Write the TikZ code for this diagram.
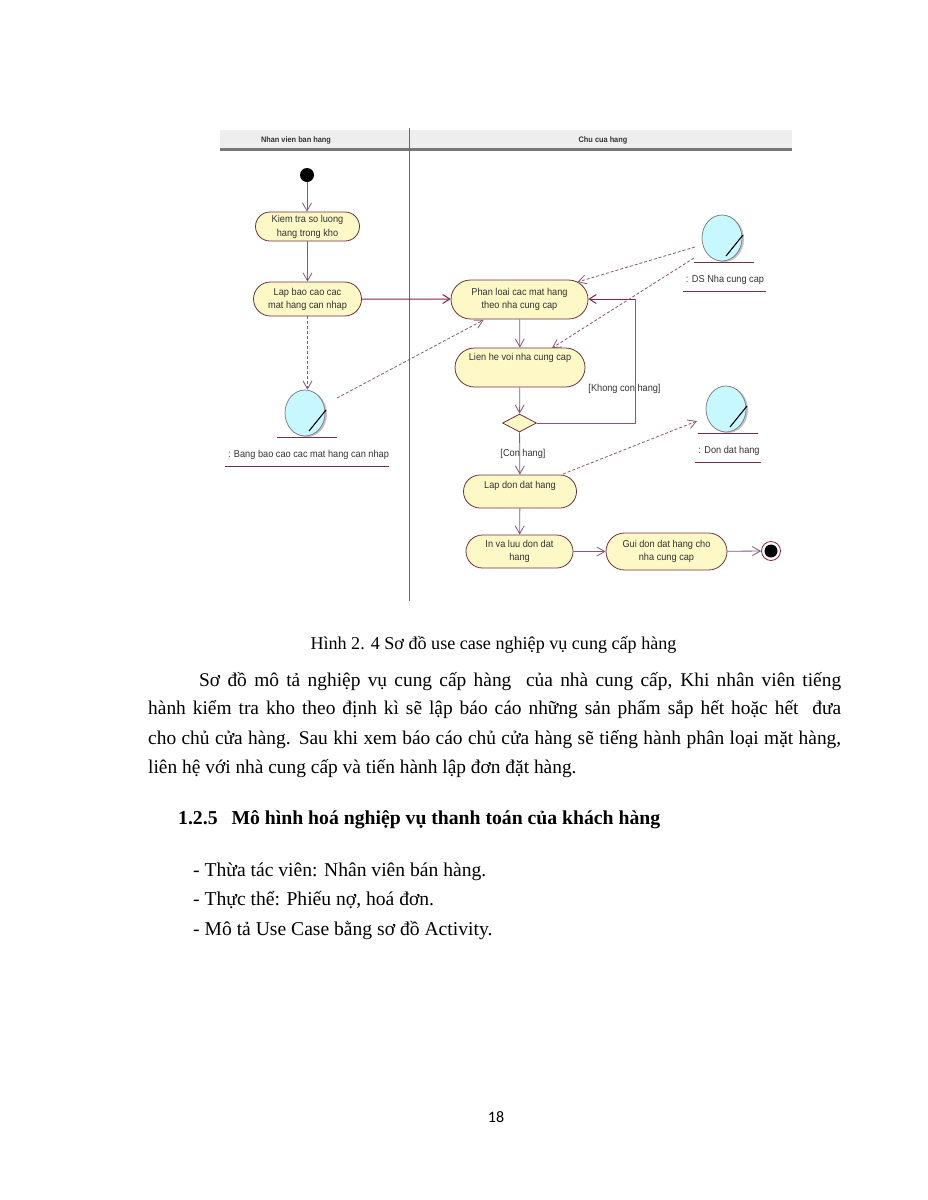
\documentclass[tikz,border=0pt]{standalone}
\usepackage{fontspec}
\setmainfont{Liberation Serif}
\newfontfamily\diagfont[FakeStretch=0.92]{Liberation Sans}
\newfontfamily\pagenofont{Carlito}
\usetikzlibrary{shapes.misc,shapes.geometric,arrows.meta,calc}
\definecolor{lineC}{HTML}{8A5578}
\definecolor{darkC}{HTML}{8A1F48}
\definecolor{edgeC}{HTML}{70303F}
\definecolor{boxF}{HTML}{FDF8C6}
\definecolor{entF}{HTML}{C8F8FF}
\definecolor{headF}{HTML}{EEEEEE}
\definecolor{headL}{HTML}{777777}
\definecolor{txtC}{HTML}{333333}
\definecolor{shadC}{HTML}{C9BFC9}
\tikzset{
  x=1pt,y=-1pt,
  act/.style={rounded rectangle,draw=edgeC,fill=boxF,line width=0.8,inner sep=0,align=center,
    font=\diagfont\fontsize{10}{13}\selectfont,text=txtC},
  flow/.style={draw=lineC,line width=0.8,-{Straight Barb[length=8,width=9]}},
  thickflow/.style={draw=darkC,line width=1,-{Straight Barb[length=7,width=9]}},
  dep/.style={draw=lineC,line width=0.8,densely dashed,-{Straight Barb[length=8,width=9]}},
  ent/.style={ellipse,draw=headL,fill=entF,line width=0.7,inner sep=0,minimum width=40,minimum height=46},
  lab/.style={font=\diagfont\fontsize{10}{12}\selectfont,text=txtC,inner sep=0},
  hdr/.style={font=\diagfont\bfseries\fontsize{8}{9}\selectfont,text=txtC,inner sep=0},
  body/.style={anchor=base west,inner sep=0,font=\fontsize{19.4}{24}\selectfont,text=black},
  bullet/.style={body,font=\fontsize{19.6}{24}\selectfont},
  ul/.style={draw=edgeC,line width=0.8},
}
\newcommand{\jline}[5]{\node[body] (#1) at (#2,#3) {\makebox[#4pt][s]{#5}};}
\newcommand{\entsym}[3]{% name, x, y
  \fill[shadC] (#2+2,#3+1) ellipse [x radius=20,y radius=23];
  \node[ent] (#1) at (#2,#3) {};
  \draw[black,line width=1.1] (#2+4,#3+18) -- (#2+21,#3-3);
  \draw[ul] (#2-28,#3+24) -- (#2+32,#3+24);
}
\begin{document}
\begin{tikzpicture}
\useasboundingbox (0,0) rectangle (927,1200);
\fill[white] (0,0) rectangle (927,1200);
% swimlane header
\fill[headF] (220,130) rectangle (792,148);
\fill[headL] (220,148) rectangle (792,151);
\draw[lineC,line width=0.8] (409,128) -- (409,601);
\node[hdr] (lane1) at (296,140) {Nhan vien ban hang};
\node[hdr] (lane2) at (603,140) {Chu cua hang};
% start / end
\node[circle,fill=black,inner sep=0,minimum size=14] (start) at (307,175) {};
\node[circle,draw=darkC,line width=0.8,fill=white,inner sep=0,minimum size=19] (endr) at (771,551) {};
\node[circle,fill=black,inner sep=0,minimum size=13] (endc) at (771,551) {};
% activities
\node[act,minimum width=104,minimum height=29,font=\diagfont\fontsize{10}{14}\selectfont] (kiem) at (307.5,226.5) {Kiem tra so luong\\hang trong kho};
\node[act,minimum width=108,minimum height=34] (lapbc) at (307.5,299) {Lap bao cao cac\\mat hang can nhap};
\node[act,minimum width=137,minimum height=39] (phan) at (519.5,299.5) {Phan loai cac mat hang\\theo nha cung cap};
\node[act,minimum width=130,minimum height=39] (lien) at (520,367.5) {Lien he voi nha cung cap\\[9pt]~};
\node[diamond,draw=edgeC,fill=boxF,line width=0.8,inner sep=0,minimum width=34,minimum height=18] (dec) at (519.5,423) {};
\node[act,minimum width=113,minimum height=33] (lapdon) at (520,491.5) {Lap don dat hang\\~};
\node[act,minimum width=107,minimum height=33] (inluu) at (519.5,551.5) {In va luu don dat\\hang};
\node[act,minimum width=121,minimum height=37] (gui) at (666.5,551.5) {Gui don dat hang cho\\nha cung cap};
% entities
\entsym{bang}{305}{413}
\node[lab] (bangL) at (308.5,455) {: Bang bao cao cac mat hang can nhap};
\draw[ul] (225,466) -- (389,466);
\entsym{ds}{722}{238}
\node[lab] (dsL) at (725,280) {: DS Nha cung cap};
\draw[ul] (683,291) -- (766,291);
\entsym{don}{726}{409}
\node[lab] (donL) at (729,451) {: Don dat hang};
\draw[ul] (695,462) -- (761,462);
% control flow
\draw[flow] (start) -- (start |- kiem.north);
\draw[flow] (kiem) -- (lapbc);
\draw[thickflow] (lapbc) -- (phan.west |- lapbc);
\draw[flow] (phan) -- (lien);
\draw[flow] (lien) -- (dec);
\draw[flow] (dec) -- (lapdon);
\draw[flow] (lapdon) -- (inluu);
\draw[flow] (inluu) -- (gui);
\draw[flow] (gui) -- (endr);
\draw[lineC,line width=0.8] (dec.east) -- (635,423) -- (635,299);
\draw[thickflow] (635,299) -- (phan.east |- 0,299);
% dependencies
\draw[dep] (lapbc.south) -- (lapbc.south |- bang.north);
\draw[dep] ($(bang)+(32,-15)$) -- ($(phan)+(-36,20.5)$);
\draw[dep] ($(ds)+(-27,9)$) -- ($(phan)+(58,-17.5)$);
\draw[dep] ($(ds)+(-28,20)$) -- ($(lien)+(32,-19.5)$);
\draw[dep] ($(lapdon)+(43,-17.5)$) -- ($(don)+(-29,12)$);
% guards
\node[lab] (g1) at (624.5,389) {[Khong con hang]};
\node[lab] (g2) at (523,454) {[Con hang]};
% page text
\node[anchor=base,inner sep=0,font=\fontsize{18.1}{24}\selectfont] (cap) at (493.5,649) {Hình 2. 4 Sơ đồ use case nghiệp vụ cung cấp hàng};
\jline{p1}{199}{686}{642}{Sơ đồ mô tả nghiệp vụ cung cấp hàng\ \ của nhà cung cấp, Khi nhân viên tiếng}
\jline{p2}{148}{714}{693}{hành kiểm tra kho theo định kì sẽ lập báo cáo những sản phẩm sắp hết hoặc hết\ \ đưa}
\jline{p3}{148}{744}{693}{cho chủ cửa hàng. Sau khi xem báo cáo chủ cửa hàng sẽ tiếng hành phân loại mặt hàng,}
\node[body] (p4) at (148,773) {liên hệ với nhà cung cấp và tiến hành lập đơn đặt hàng.};
\node[body,font=\fontsize{19.7}{24}\selectfont\bfseries] (h1) at (178,824) {1.2.5\hspace{14pt}Mô hình hoá nghiệp vụ thanh toán của khách hàng};
\node[bullet] (b1) at (193,876) {- Thừa tác viên: Nhân viên bán hàng.};
\node[bullet] (b2) at (193,905) {- Thực thể: Phiếu nợ, hoá đơn.};
\node[bullet] (b3) at (193,935) {- Mô tả Use Case bằng sơ đồ Activity.};
\node[anchor=base,inner sep=0,font=\pagenofont\fontsize{16}{20}\selectfont] (pn) at (496,1122) {18};
\end{tikzpicture}
\end{document}
